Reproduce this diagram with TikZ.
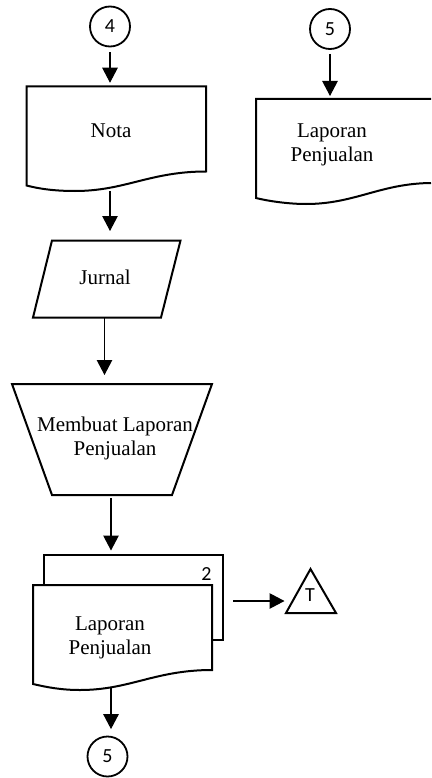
\documentclass[tikz,border=0pt]{standalone}
\usepackage{fontspec}
\setmainfont{Liberation Serif}
\newfontfamily\calibrifont{Carlito}
\usetikzlibrary{arrows.meta}
\tikzset{
  outline/.style={draw=black,line width=2pt,line join=miter},
  flow/.style={draw=black,line width=1.1pt,-{Triangle[width=15.5pt,length=15pt]}},
  extent/.style={inner sep=0pt,outer sep=0pt},
  serif/.style={inner sep=0pt,align=center,font=\fontsize{21pt}{24pt}\selectfont},
  connector/.style={circle,draw=black,line width=1.8pt,minimum size=40pt,inner sep=0pt,font=\calibrifont\fontsize{20pt}{22pt}\selectfont},
  mark label/.style={inner sep=0pt,font=\calibrifont\fontsize{20pt}{22pt}\selectfont}
}
\begin{document}
\begin{tikzpicture}[x=1pt,y=-1pt]
\useasboundingbox (0,0) rectangle (431,778);
\fill[white] (0,0) rectangle (431,778);

% connectors (circles)
\node[connector] (c4) at (110,26.5) {4};
\node[connector] (c5r) at (330,29) {5};
\node[connector] (c5b) at (107.5,756.5) {5};

% Nota
\node[extent,minimum width=180pt,minimum height=104.5pt] (nota) at (116.25,138.5) {};
\draw[outline] (26.5,185.5) -- (26.5,86.5) -- (206,86.5) -- (206,171.5)
  .. controls (150,171.5) and (125,191) .. (75,191)
  .. controls (55,191) and (40,189) .. (26.5,185.5) -- cycle;
\node[serif] (notatext) at (111,131) {Nota};

% Laporan Penjualan (right, cut by the page edge)
\node[extent,minimum width=175pt,minimum height=105pt] (lapr) at (343.5,151.5) {};
\draw[outline] (431,99) -- (256,99) -- (256,198)
  .. controls (270,201.5) and (290,204) .. (306,204)
  .. controls (355,204) and (380,183.5) .. (431,183);
\node[serif] (laprtext) at (332,144.5) {Laporan\\Penjualan};

% Jurnal
\node[extent,minimum width=140pt,minimum height=77pt] (jurnal) at (104.5,279) {};
\draw[outline] (52,240.5) -- (180.5,240.5) -- (161,317.5) -- (33,317.5) -- cycle;
\node[serif] (jurnaltext) at (105,277) {Jurnal};

% Membuat Laporan Penjualan
\node[extent,minimum width=200pt,minimum height=111pt] (proses) at (111,439.5) {};
\draw[outline] (12,384) -- (212,384) -- (172,495) -- (52,495) -- cycle;
\node[serif] (prosestext) at (115,438.5) {Membuat Laporan\\Penjualan};

% Document stack
\node[extent,minimum width=244pt,minimum height=135.5pt] (stack) at (111,622.25) {};
\draw[outline] (43.5,585) -- (43.5,554.5) -- (223,554.5) -- (223,640) -- (212,640);
\draw[outline] (33,684) -- (33,585) -- (212,585) -- (212,670)
  .. controls (155,670) and (130,690) .. (80,690)
  .. controls (62,690) and (48,687.5) .. (33,684) -- cycle;
\node[mark label] (copy) at (206.5,574) {2};
\node[serif] (stacktext) at (110,638) {Laporan\\Penjualan};

% Triangle
\node[extent,minimum width=50pt,minimum height=44pt] (tri) at (311,591) {};
\draw[outline] (310.5,569) -- (336,613) -- (286,613) -- cycle;
\node[mark label] (tritext) at (310,595.5) {T};

% arrows
\draw[flow,shorten <=5pt,shorten >=3.5pt] (c4.south) -- (c4.south |- nota.north);
\draw[flow,shorten >=9.5pt] (c4 |- nota.south) -- (c4 |- jurnal.north);
\draw[flow,shorten <=4pt,shorten >=3pt] (c5r.south) -- (c5r.south |- lapr.north);
\draw[flow,shorten >=9pt] (jurnal.south) -- (jurnal.south |- proses.north);
\draw[flow,shorten <=3pt,shorten >=4pt] (proses.south) -- (proses.south |- stack.north);
\draw[flow,shorten <=-2pt,shorten >=6.5pt] (stack.south) -- (stack.south |- c5b.north);
\draw[flow,shorten >=1.5pt] (stack.east |- tri.center) ++(0,10) -- (tri.west |- 0,601);
\end{tikzpicture}
\end{document}
